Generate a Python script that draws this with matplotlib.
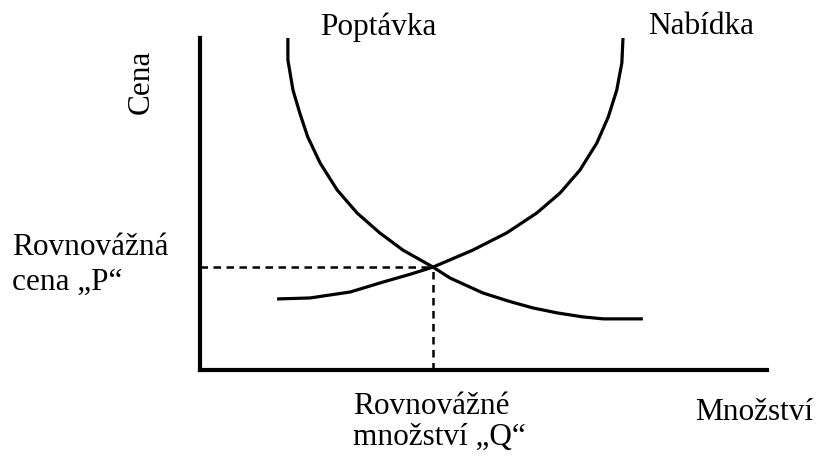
import matplotlib
matplotlib.use("Agg")
import matplotlib.pyplot as plt

plt.rcParams['font.family'] = ['Liberation Serif', 'DejaVu Serif']

# demand curve (quantity, price)
demand_q = [1.55, 1.55, 1.64, 1.76, 1.90, 2.12, 2.42, 2.77, 3.17, 3.58, 4.11,
            4.41, 4.99, 5.45, 5.87, 6.30, 6.75, 7.11, 7.81]
demand_p = [10.0, 9.34, 8.43, 7.74, 7.02, 6.23, 5.42, 4.73, 4.13, 3.61, 3.10,
            2.77, 2.32, 2.07, 1.87, 1.72, 1.60, 1.54, 1.54]

# supply curve (quantity, price)
supply_q = [1.36, 1.94, 2.65, 3.23, 3.70, 4.11, 4.81, 5.41, 5.94, 6.35, 6.70,
            7.00, 7.20, 7.35, 7.44, 7.46]
supply_p = [2.14, 2.17, 2.35, 2.65, 2.88, 3.10, 3.61, 4.13, 4.73, 5.33, 6.02,
            6.84, 7.62, 8.43, 9.25, 10.0]

eq_q = 4.11
eq_p = 3.10

W, H = 817, 459
fig = plt.figure(figsize=(W / 100, H / 100), dpi=100)
fig.patch.set_facecolor('white')

# axes placed so that the origin sits at (200, 370) px
ax = fig.add_axes([200 / W, 1 - 370 / H, 567 / W, 332 / H])
ax.set_xlim(0, 10)
ax.set_ylim(0, 10)

ax.plot(demand_q, demand_p, color='black', lw=2.3, solid_capstyle='butt',
        solid_joinstyle='round')
ax.plot(supply_q, supply_p, color='black', lw=2.3, solid_capstyle='butt',
        solid_joinstyle='round')

ax.plot([0, eq_q], [eq_p, eq_p], color='black', lw=1.8, ls=(0, (3, 2.2)))
ax.plot([eq_q, eq_q], [0, eq_p], color='black', lw=1.8, ls=(0, (3, 2.2)))

for s in ['top', 'right']:
    ax.spines[s].set_visible(False)
for s in ['left', 'bottom']:
    ax.spines[s].set_linewidth(3)
    ax.spines[s].set_color('black')
ax.set_xticks([])
ax.set_yticks([])
ax.patch.set_alpha(0)

fs = 22.5


def px_text(x, y, s, ha='left', **kw):
    fig.text(x / W, 1 - y / H, s, fontsize=fs, va='center', ha=ha, **kw)


px_text(141, 82, "Cena", rotation=90, ha='center')
px_text(320, 27, "Poptávka")
px_text(648, 27, "Nabídka")
px_text(12, 265, "Rovnovážná\ncena \u201eP\u201c", linespacing=1.25)
px_text(353, 422, "Rovnovážné\nmnožství \u201eQ\u201c", linespacing=1.1)
px_text(695, 413, "Množství")

fig.savefig("out.png", dpi=100)
